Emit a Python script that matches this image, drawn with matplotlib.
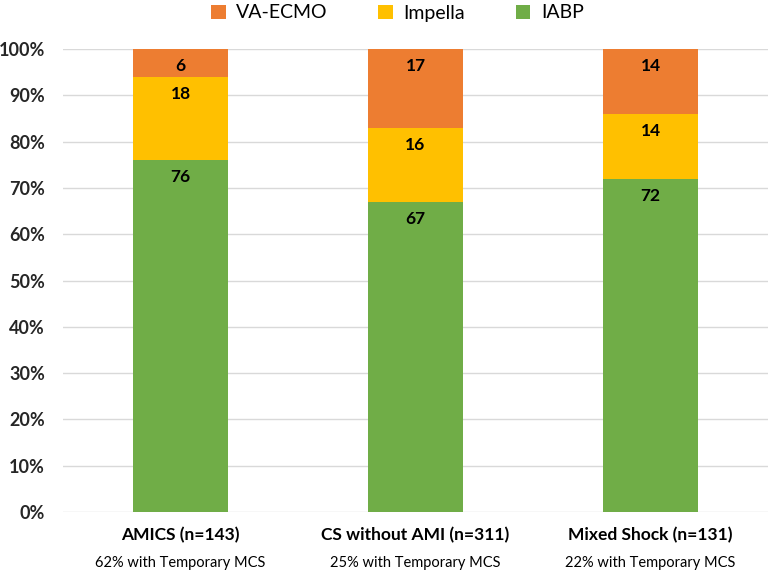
import numpy as np
import matplotlib.pyplot as plt
from matplotlib.transforms import blended_transform_factory

plt.rcParams['font.family'] = ['Lato', 'DejaVu Sans']

categories = ['AMICS (n=143)', 'CS without AMI (n=311)', 'Mixed Shock (n=131)']
subtitles = ['62% with Temporary MCS', '25% with Temporary MCS', '22% with Temporary MCS']
iabp = [76, 67, 72]
impella = [18, 16, 14]
ecmo = [6, 17, 14]

c_ecmo = '#ED7D31'
c_imp = '#FFC000'
c_iabp = '#70AD47'

fig = plt.figure(figsize=(7.72, 5.82), dpi=100)
ax = fig.add_axes([63 / 772, 1 - 512 / 582, 705 / 772, 463 / 582])

x = np.arange(len(categories))
w = 0.405
b1 = ax.bar(x, iabp, w, color=c_iabp, label='IABP', zorder=3)
b2 = ax.bar(x, impella, w, bottom=iabp, color=c_imp, label='Impella', zorder=3)
bot3 = np.array(iabp) + np.array(impella)
b3 = ax.bar(x, ecmo, w, bottom=bot3, color=c_ecmo, label='VA-ECMO', zorder=3)

# labels at inside end of each segment
for bars, vals, bots in [(b1, iabp, [0, 0, 0]), (b2, impella, iabp), (b3, ecmo, bot3)]:
    for i, v in enumerate(vals):
        ax.annotate(str(v), (x[i], bots[i] + v), xytext=(0, -6.5), textcoords='offset points',
                    ha='center', va='top', fontsize=12.5, fontweight='bold', color='black', zorder=4)

ax.set_xlim(-0.5, 2.5)
ax.set_ylim(0, 100)
ax.set_yticks(np.arange(0, 101, 10))
ax.set_yticklabels([f'{v}%' for v in range(0, 101, 10)], fontsize=13, fontweight='bold', color='#262626')
ax.yaxis.grid(True, color='#D9D9D9', linewidth=1, zorder=0)
ax.tick_params(axis='y', length=0, pad=13)
ax.tick_params(axis='x', length=0, pad=11)
ax.set_xticks(x)
ax.set_xticklabels(categories, fontsize=12.5, fontweight='bold', color='black')
for s in ax.spines.values():
    s.set_visible(False)

trans = blended_transform_factory(ax.transData, fig.transFigure)
for i, t in enumerate(subtitles):
    ax.text(x[i], 1 - 563 / 582, t, transform=trans, ha='center', va='center',
            fontsize=10.5, color='black')

h = [b3, b2, b1]
leg = fig.legend(h, ['VA-ECMO', 'Impella', 'IABP'], loc='center', bbox_to_anchor=(0.515, 1 - 13 / 582),
                 ncol=3, frameon=False, fontsize=14, handlelength=0.75, handleheight=0.75,
                 columnspacing=2.6, handletextpad=0.55)

fig.savefig('out.png', dpi=100)
